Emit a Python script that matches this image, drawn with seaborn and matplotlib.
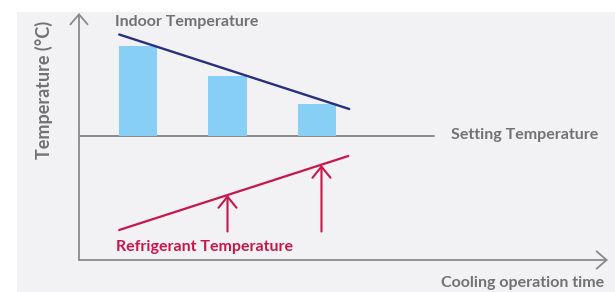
import matplotlib
matplotlib.use("Agg")
import matplotlib.pyplot as plt
import matplotlib.patches as mpatches
import seaborn as sns

# Data (schematic values)
time = [1, 2, 3]
indoor = [8.95, 5.95, 3.15]
indoor_trend_x = [0.79, 3.36]
indoor_trend_y = [10.1, 2.65]
refrig_trend_x = [0.79, 3.35]
refrig_trend_y = [-9.45, -2.05]
arrow_x = [2.0, 3.05]
arrow_from = [-9.6, -9.6]
arrow_to = [-5.95, -2.95]
setting_temp = 0.0
setting_end = 4.31

sns.set_style("white")
plt.rcParams["font.family"] = ["Lato", "DejaVu Sans"]

GRAY = "#8a8a8a"
TEXT_GRAY = "#727272"
RED = "#c8164b"
NAVY = "#28307d"
BLUE = "#88cff6"

fig = plt.figure(figsize=(6.15, 2.92), dpi=100, facecolor="white")
fig.patches.append(
    mpatches.Rectangle((17 / 615, 0), 598 / 615, 280 / 292, transform=fig.transFigure,
                       facecolor="#f2f2f4", edgecolor="none", zorder=-5)
)
ax = fig.add_axes([79 / 615, 32 / 292, 529 / 615, 247 / 292])
ax.set_facecolor("none")

sns.barplot(x=time, y=indoor, native_scale=True, width=0.425, color=BLUE,
            saturation=1, edgecolor="none", linewidth=0, ax=ax, zorder=2)
sns.lineplot(x=indoor_trend_x, y=indoor_trend_y, color=NAVY, linewidth=1.7, ax=ax, zorder=3)
sns.lineplot(x=refrig_trend_x, y=refrig_trend_y, color=RED, linewidth=1.6, ax=ax, zorder=3)

xmin, xmax = 1 - 59 / 89.5, 1 + 470 / 89.5
ymin, ymax = -12.45, 12.25
ax.set_xlim(xmin, xmax)
ax.set_ylim(ymin, ymax)
ax.set_xlabel("")
ax.set_ylabel("")
ax.set_xticks([])
ax.set_yticks([])
for s in ax.spines.values():
    s.set_visible(False)

# setting temperature line
ax.plot([xmin, setting_end], [setting_temp, setting_temp], color=GRAY, lw=1.4, zorder=1)

# axes with open arrow heads
ax_arrow = dict(arrowstyle="->,head_length=0.72,head_width=0.62", color=GRAY, lw=1.3,
                mutation_scale=10, shrinkA=0, shrinkB=0)
ax.annotate("", xy=(xmin, ymax), xytext=(xmin, ymin), arrowprops=ax_arrow, annotation_clip=False)
ax.annotate("", xy=(xmax, ymin), xytext=(xmin, ymin), arrowprops=ax_arrow, annotation_clip=False)

# refrigerant rise arrows
red_arrow = dict(arrowstyle="->,head_length=0.8,head_width=0.65", color=RED, lw=1.5,
                 mutation_scale=10, shrinkA=0, shrinkB=0)
for x, y0, y1 in zip(arrow_x, arrow_from, arrow_to):
    ax.annotate("", xy=(x, y1), xytext=(x, y0), arrowprops=red_arrow)

fs = 11.5
ax.text(0.743, 11.35, "Indoor Temperature", color=TEXT_GRAY, fontsize=fs,
        fontweight="bold", ha="left", va="center")
ax.text(4.497, 0, "Setting Temperature", color=TEXT_GRAY, fontsize=fs,
        fontweight="bold", ha="left", va="center")
ax.text(0.754, -11.15, "Refrigerant Temperature", color=RED, fontsize=fs,
        fontweight="bold", ha="left", va="center")
fig.text(604 / 615, 1 - 283 / 292, "Cooling operation time", color=TEXT_GRAY, fontsize=fs,
         fontweight="bold", ha="right", va="center")
fig.text(44 / 615, 1 - 90 / 292, "Temperature (°C)", color=TEXT_GRAY, fontsize=13,
         fontweight="bold", ha="center", va="center", rotation=90)

fig.savefig("out.png", dpi=100, facecolor="white")
